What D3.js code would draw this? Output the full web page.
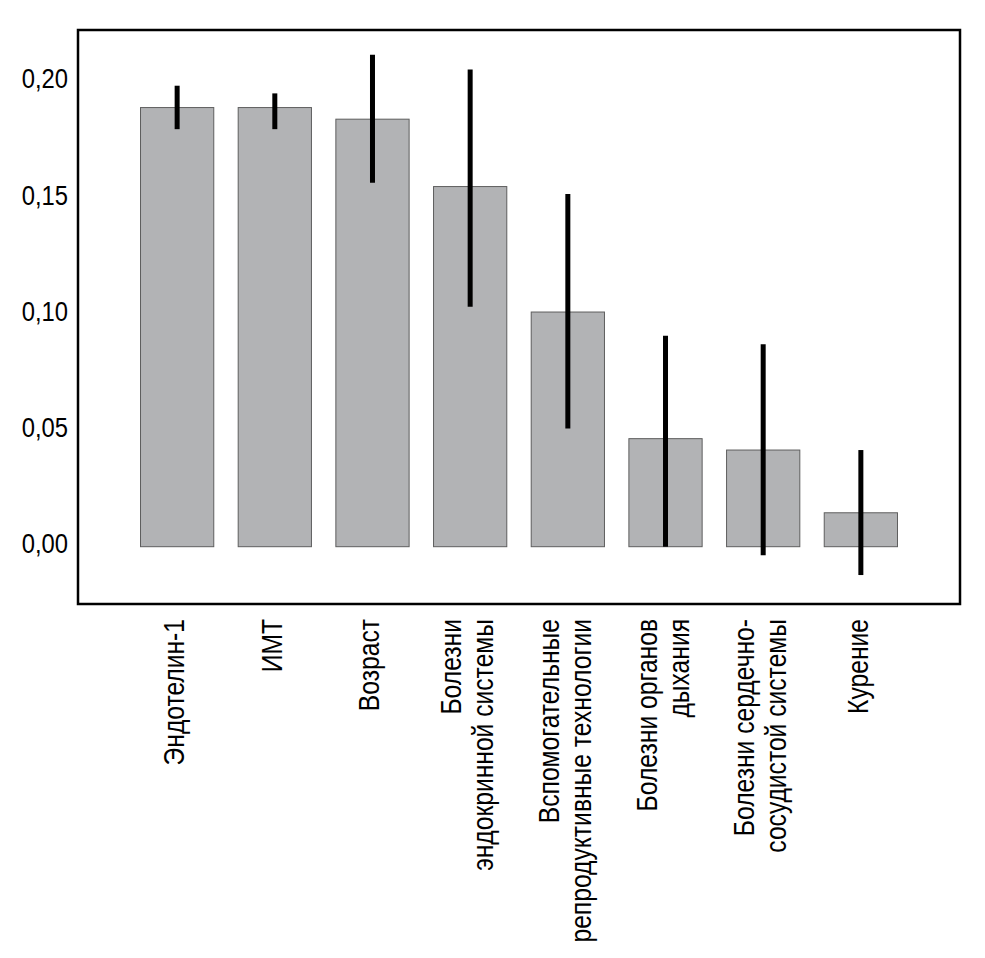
<!DOCTYPE html>
<html lang="ru">
<head>
<meta charset="UTF-8">
<title>Chart</title>
<script src="https://cdn.jsdelivr.net/npm/d3@7"></script>
<style>
    html,body{
        margin:0;
        background:#fff;
    }
    svg text{
        font-family:"Liberation Sans","Arial",sans-serif;
        fill:#000;
    }
</style>
</head>
<body>
<script>
// categories (line breaks as in the original)
const categories = [
    ["Эндотелин-1"],
    ["ИМТ"],
    ["Возраст"],
    ["Болезни", "эндокринной системы"],
    ["Вспомогательные", "репродуктивные технологии"],
    ["Болезни органов", "дыхания"],
    ["Болезни сердечно-", "сосудистой системы"],
    ["Курение"]
];
const values = [0.189, 0.189, 0.184, 0.155, 0.101, 0.0465, 0.0416, 0.0146];
const errLow = [0.1797, 0.1797, 0.1566, 0.1033, 0.0509, 0.0, -0.0037, -0.0122];
const errHigh = [0.1984, 0.1951, 0.2117, 0.2054, 0.1518, 0.0908, 0.0871, 0.0416];
const yTicks = [0, 0.05, 0.10, 0.15, 0.20];

const W = 985, H = 958;
const frame = {left:78, top:30, right:960, bottom:604};
// no narrow font installed, so squeeze the regular one
const narrow = 0.85;

const svg = d3.select("body").append("svg")
    .attr("width", W).attr("height", H);

const x = d3.scaleBand()
    .domain(d3.range(categories.length))
    .range([frame.left, frame.right])
    .paddingInner(0.25)
    .paddingOuter(0.64);

const y = d3.scaleLinear()
    .domain([0, 0.2])
    .range([546.7, 82]);

// bars
svg.append("g").selectAll("rect")
    .data(values)
    .join("rect")
    .attr("x", (d,i)=>x(i))
    .attr("width", x.bandwidth())
    .attr("y", d=>y(d))
    .attr("height", d=>y(0)-y(d))
    .attr("fill", "#b2b3b5")
    .attr("stroke", "#5e5e5e")
    .attr("stroke-width", 1);

// error bars
svg.append("g").selectAll("line")
    .data(values)
    .join("line")
    .attr("x1", (d,i)=>x(i)+x.bandwidth()/2)
    .attr("x2", (d,i)=>x(i)+x.bandwidth()/2)
    .attr("y1", (d,i)=>y(errLow[i]))
    .attr("y2", (d,i)=>y(errHigh[i]))
    .attr("stroke", "#000")
    .attr("stroke-width", 5);

// frame
svg.append("rect")
    .attr("x", frame.left).attr("y", frame.top)
    .attr("width", frame.right-frame.left)
    .attr("height", frame.bottom-frame.top)
    .attr("fill", "none")
    .attr("stroke", "#000")
    .attr("stroke-width", 2.5);

// y axis (labels only, no tick marks)
const yAxis = d3.axisLeft(y)
    .tickValues(yTicks)
    .tickSize(0)
    .tickPadding(0)
    .tickFormat(d=>d3.format(".2f")(d).replace(".", ","));

const yg = svg.append("g")
    .attr("transform", "translate(68,0)")
    .call(yAxis);
yg.select(".domain").remove();
yg.selectAll("text")
    .attr("font-size", 28)
    .attr("dy", "0.21em")
    .attr("transform", `scale(${narrow},1)`);

// x labels, rotated
const lh = 32;
const xl = svg.append("g").selectAll("text")
    .data(categories)
    .join("text")
    .attr("transform", (d,i)=>`translate(${x(i)+x.bandwidth()/2},619) rotate(-90) scale(${narrow},1)`)
    .attr("text-anchor", "end")
    .attr("font-size", 29);

xl.selectAll("tspan")
    .data(d=>d.map((t,j)=>({t, j, n:d.length})))
    .join("tspan")
    .attr("x", 0)
    .attr("y", d=>7 - (d.n-1)*lh/2 + d.j*lh)
    .text(d=>d.t);
</script>
</body>
</html>
